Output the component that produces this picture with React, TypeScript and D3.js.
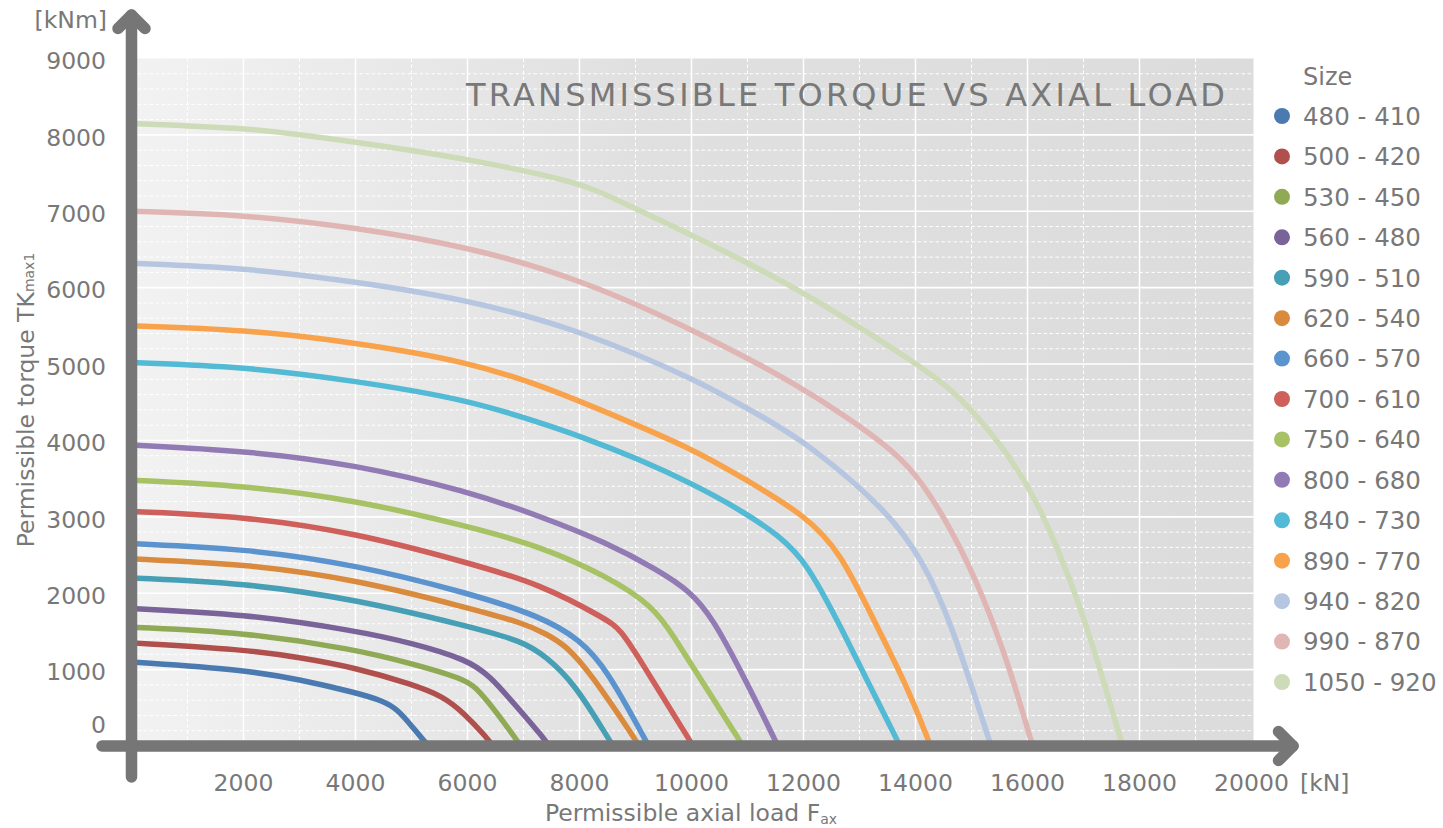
import React from "react";
import * as d3 from "d3";

type Pt = [number, number];

// Series labels (legend) and colours
const sizes = [
  "480 - 410", "500 - 420", "530 - 450", "560 - 480", "590 - 510",
  "620 - 540", "660 - 570", "700 - 610", "750 - 640", "800 - 680",
  "840 - 730", "890 - 770", "940 - 820", "990 - 870", "1050 - 920",
];
const colors = [
  "#4a7ab0", "#b0504d", "#8fa955", "#7a6399", "#479fb5",
  "#d98a3d", "#5b93cf", "#cf5f5a", "#a6c264", "#927ab4",
  "#52bad4", "#f8a24c", "#b6c6e0", "#e0b6b4", "#cddbb8",
];

// [axial load kN, torque kNm]
const s480: Pt[] = [[0,1100],[2000,1000],[3000,870],[4000,700],[4500,590],[4750,478],[5000,265],[5300,0]];
const s500: Pt[] = [[0,1350],[2000,1265],[3000,1160],[4000,1025],[5000,810],[5570,650],[5930,435],[6350,107],[6450,0]];
const s530: Pt[] = [[0,1555],[2000,1490],[4000,1265],[5000,1080],[6000,870],[6230,700],[6525,435],[6850,107],[6950,0]];
const s560: Pt[] = [[0,1800],[2000,1730],[4000,1510],[5000,1350],[6000,1130],[6400,915],[6820,565],[7360,107],[7450,0]];
const s590: Pt[] = [[0,2200],[2000,2135],[4000,1920],[6000,1570],[7000,1370],[7400,1170],[7900,830],[8490,128],[8600,0]];
const s620: Pt[] = [[0,2450],[2000,2385],[4000,2180],[6000,1810],[7000,1610],[7400,1470],[7775,1306],[8190,958],[8960,128],[9060,0]];
const s660: Pt[] = [[0,2650],[2000,2585],[4000,2375],[6000,2005],[7300,1700],[8010,1394],[8490,1000],[9140,128],[9235,0]];
const s700: Pt[] = [[0,3070],[2000,3008],[4000,2790],[6000,2400],[7300,2120],[8490,1656],[8730,1525],[9080,1130],[9920,128],[10030,0]];
const s750: Pt[] = [[0,3480],[2000,3410],[4000,3220],[6000,2877],[7300,2616],[8490,2223],[9320,1830],[9680,1437],[10155,887],[10810,128],[10920,0]];
const s800: Pt[] = [[0,3940],[2000,3868],[4000,3685],[6000,3335],[7300,3008],[8490,2660],[9380,2311],[9980,2027],[10390,1656],[10870,1000],[11460,128],[11540,0]];
const s840: Pt[] = [[0,5020],[2000,4967],[4000,4780],[6000,4535],[7300,4231],[8010,4056],[9080,3750],[9980,3445],[10870,3096],[11580,2746],[12060,2398],[12660,1568],[13250,690],[13640,128],[13720,0]];
const s890: Pt[] = [[0,5500],[2000,5453],[4000,5282],[6000,5033],[7400,4700],[8790,4274],[9980,3900],[10870,3532],[12060,3008],[12660,2529],[13250,1656],[13850,783],[14200,128],[14270,0]];
const s940: Pt[] = [[0,6320],[2000,6262],[4000,6079],[6000,5843],[8000,5450],[10155,4776],[11346,4274],[12061,3969],[13548,3053],[14143,2398],[14620,1656],[15300,107],[15350,0]];
const s990: Pt[] = [[0,7000],[2000,6957],[4000,6787],[6000,6538],[8000,6119],[10155,5409],[11941,4710],[12834,4274],[13429,3960],[13964,3620],[14620,2877],[15215,1961],[15691,1001],[16048,107],[16090,0]];
const s1050: Pt[] = [[0,8150],[2000,8090],[3000,8005],[4440,7861],[6230,7656],[8010,7373],[8550,7190],[10155,6640],[12000,5954],[13964,5030],[14620,4700],[15420,4056],[15990,3445],[16400,2834],[17000,1744],[17655,107],[17700,0]];

const seriesData: Pt[][] = [s480, s500, s530, s560, s590, s620, s660, s700, s750, s800, s840, s890, s940, s990, s1050];

const xTicks = [2000, 4000, 6000, 8000, 10000, 12000, 14000, 16000, 18000, 20000];
const yTicks = [0, 1000, 2000, 3000, 4000, 5000, 6000, 7000, 8000, 9000];

const W = 1443;
const H = 828;
const FONT = "'DejaVu Sans', Verdana, sans-serif";
const TXT = "#787878";
const AX = "#767676";

export default function App() {
  const xs = d3.scaleLinear().domain([0, 20000]).range([131.5, 1251.5]);
  const ys = d3.scaleLinear().domain([0, 9000]).range([746, 58.5]);
  const line = d3
    .line<Pt>()
    .x((d) => xs(d[0]))
    .y((d) => ys(d[1]))
    .curve(d3.curveBasis);

  const xMinor = d3.range(1000, 20000, 1000);
  const yMinor = d3.range(200, 9000, 200);

  const legendY = d3.scaleLinear().domain([0, 14]).range([116, 682]);

  return (
    <svg
      width={W}
      height={H}
      style={{ position: "absolute", left: 0, top: 0, display: "block" }}
      fontFamily={FONT}
    >
      <defs>
        <linearGradient id="bg" x1="0" x2="1" y1="0" y2="0">
          <stop offset="0" stopColor="#f2f2f2" />
          <stop offset="0.45" stopColor="#e0e0e0" />
          <stop offset="1" stopColor="#dcdcdc" />
        </linearGradient>
      </defs>
      <rect width={W} height={H} fill="#ffffff" />
      <rect
        x={xs(0)}
        y={ys(9000)}
        width={xs(20000) - xs(0) + 2}
        height={ys(0) - ys(9000)}
        fill="url(#bg)"
      />
      {/* minor gridlines */}
      {xMinor
        .filter((v) => v % 2000 !== 0)
        .map((v) => (
          <line key={"xm" + v} x1={xs(v)} x2={xs(v)} y1={ys(9000)} y2={ys(0)}
            stroke="#ffffff" strokeWidth={1} strokeDasharray="3.5,2.5" />
        ))}
      {yMinor
        .filter((v) => v % 1000 !== 0)
        .map((v) => (
          <line key={"ym" + v} x1={xs(0)} x2={xs(20000) + 2} y1={ys(v)} y2={ys(v)}
            stroke="#ffffff" strokeWidth={1} strokeDasharray="3.5,2.5" />
        ))}
      {/* major gridlines */}
      {xMinor
        .filter((v) => v % 2000 === 0)
        .map((v) => (
          <line key={"xM" + v} x1={xs(v)} x2={xs(v)} y1={ys(9000)} y2={ys(0)}
            stroke="#ffffff" strokeWidth={1.5} />
        ))}
      {yTicks
        .filter((v) => v > 0 && v < 9000)
        .map((v) => (
          <line key={"yM" + v} x1={xs(0)} x2={xs(20000) + 2} y1={ys(v)} y2={ys(v)}
            stroke="#ffffff" strokeWidth={1.6} />
        ))}

      {/* title */}
      <text x={466} y={106} fontSize={32} fill={TXT} textLength={759} lengthAdjust="spacing">
        TRANSMISSIBLE TORQUE VS AXIAL LOAD
      </text>

      {/* series */}
      {seriesData.map((d, i) => (
        <path key={"s" + i} d={line(d) || ""} fill="none" stroke={colors[i]} strokeWidth={5.5} />
      ))}

      {/* axes */}
      <g stroke={AX} strokeWidth={11.5} strokeLinecap="round" strokeLinejoin="round" fill="none">
        <path d={`M${xs(0)},777 L${xs(0)},15`} />
        <path d={`M${xs(0) - 13.5},28.5 L${xs(0)},15 L${xs(0) + 13.5},28.5`} />
        <path d={`M102,${ys(0)} L1293,${ys(0)}`} />
        <path d={`M1278.5,${ys(0) - 14.5} L1293,${ys(0)} L1278.5,${ys(0) + 14.5}`} />
      </g>

      {/* y tick labels */}
      {yTicks.map((v) => (
        <text key={"yt" + v} x={106} y={v === 0 ? ys(0) - 13 : ys(v) + 10.8}
          textAnchor="end" fontSize={23.5} fill={TXT}>
          {v}
        </text>
      ))}
      <text x={107} y={28} textAnchor="end" fontSize={23.5} fill={TXT}>[kNm]</text>

      {/* x tick labels */}
      {xTicks.map((v) => (
        <text key={"xt" + v} x={xs(v)} y={790.5} textAnchor="middle" fontSize={23.5} fill={TXT}>
          {v}
        </text>
      ))}
      <text x={1300} y={790.5} fontSize={23.5} fill={TXT}>[kN]</text>

      {/* axis titles */}
      <text x={691} y={821} textAnchor="middle" fontSize={23.5} fill={TXT}>
        Permissible axial load F
        <tspan fontSize={14} dy={3}>ax</tspan>
      </text>
      <text transform="translate(34,400) rotate(-90)" textAnchor="middle" fontSize={23.5} fill={TXT}>
        Permissible torque TK
        <tspan fontSize={14}>max1</tspan>
      </text>

      {/* legend */}
      <text x={1303} y={84.5} fontSize={24} fill={TXT}>Size</text>
      {sizes.map((s, i) => (
        <g key={"lg" + i}>
          <circle cx={1282} cy={legendY(i)} r={8} fill={colors[i]} />
          <text x={1303} y={legendY(i) + 8.8} fontSize={24.5} fill={TXT}>{s}</text>
        </g>
      ))}
    </svg>
  );
}
